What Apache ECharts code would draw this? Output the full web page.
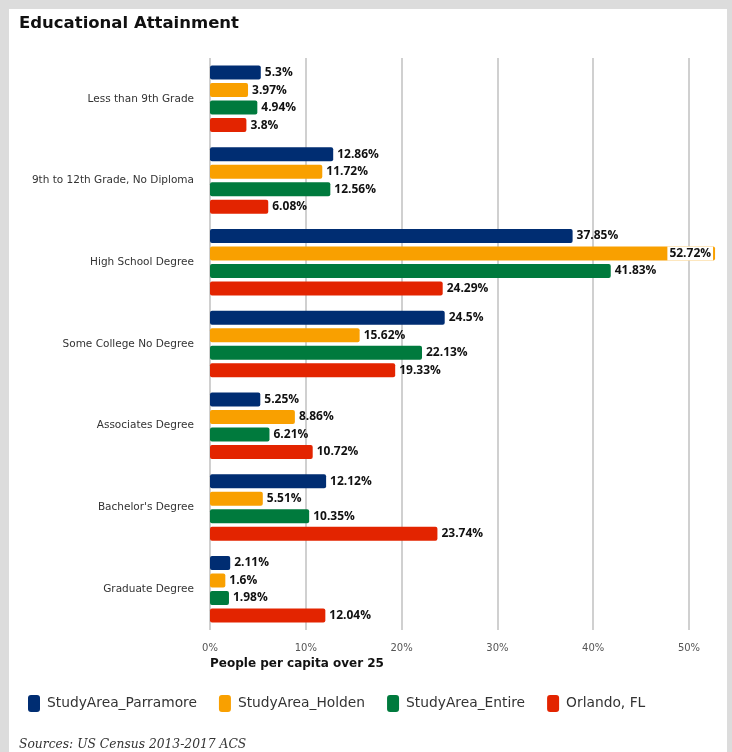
<!DOCTYPE html>
<html><head><meta charset="utf-8">
<script src="https://cdn.jsdelivr.net/npm/echarts@6/dist/echarts.min.js"></script>
<style>
html,body{margin:0;padding:0;background:#dcdcdc;width:732px;height:752px;overflow:hidden}
#c{position:absolute;left:9px;top:9px;width:718px;height:743px;background:#fff}
</style></head><body><div id="c"></div>
<script>
const categories = ["Less than 9th Grade","9th to 12th Grade, No Diploma","High School Degree","Some College No Degree","Associates Degree","Bachelor's Degree","Graduate Degree"];
const seriesNames = ["StudyArea_Parramore","StudyArea_Holden","StudyArea_Entire","Orlando, FL"];
const parramore = [5.3,12.86,37.85,24.5,5.25,12.12,2.11];
const holden = [3.97,11.72,52.72,15.62,8.86,5.51,1.6];
const entire = [4.94,12.56,41.83,22.13,6.21,10.35,1.98];
const orlando = [3.8,6.08,24.29,19.33,10.72,23.74,12.04];
const xTicks = [0,10,20,30,40,50];
const colors = ["#002d72","#f9a000","#007a3d","#e32400"];
const allData = [parramore, holden, entire, orlando];

const chart = echarts.init(document.getElementById('c'));
const ff = "'DejaVu Sans', sans-serif";
const lf = "'Open Sans', sans-serif";
const series = allData.map((arr, i) => ({
  name: seriesNames[i], type: 'bar', barWidth: 14, barGap: '25%', clip: false,
  itemStyle: {color: colors[i], borderRadius: 2},
  label: {show: true, position: 'right', distance: 4, formatter: p => p.value + '%',
    color: '#111', fontWeight: 'bold', fontSize: 12, fontFamily: lf},
  data: arr.map(v => v > xTicks[xTicks.length-1] ? {value: v, label: {position: 'insideRight', distance: 2, backgroundColor: '#fff', padding: [1,2]}} : v)
}));
chart.setOption({
  animation: false,
  title: {text: 'Educational Attainment', left: 10, top: 6, padding: 0, textStyle: {fontSize: 16.5, fontWeight: 'bold', color: '#111', fontFamily: ff}},
  grid: {left: 201, top: 49, width: 479, height: 572, containLabel: false},
  xAxis: {type: 'value', min: 0, max: 50, interval: 10,
    axisLine: {show: false}, axisTick: {show: false},
    splitLine: {show: true, lineStyle: {color: '#d0d0d0', width: 2}},
    axisLabel: {formatter: '{value}%', color: '#555', fontSize: 10, fontFamily: ff, margin: 13}},
  yAxis: {type: 'category', data: categories, inverse: true,
    axisLine: {show: false}, axisTick: {show: false},
    axisLabel: {color: '#333', fontSize: 10.5, fontFamily: ff, margin: 16}},
  legend: {data: seriesNames, left: 19, top: 686, padding: 0, icon: 'roundRect', itemWidth: 12, itemHeight: 17, itemGap: 22,
    textStyle: {fontSize: 13.8, color: '#333', fontFamily: ff, padding: [0,0,0,2]}},
  graphic: [
    {type: 'text', left: 201, top: 649, style: {text: 'People per capita over 25', font: "bold 12px " + ff, fill: '#111'}},
    {type: 'text', left: 10, top: 730, style: {text: 'Sources: US Census 2013-2017 ACS', font: "italic 12.3px 'DejaVu Serif', serif", fill: '#333'}}
  ],
  series: series
});
</script></body></html>
